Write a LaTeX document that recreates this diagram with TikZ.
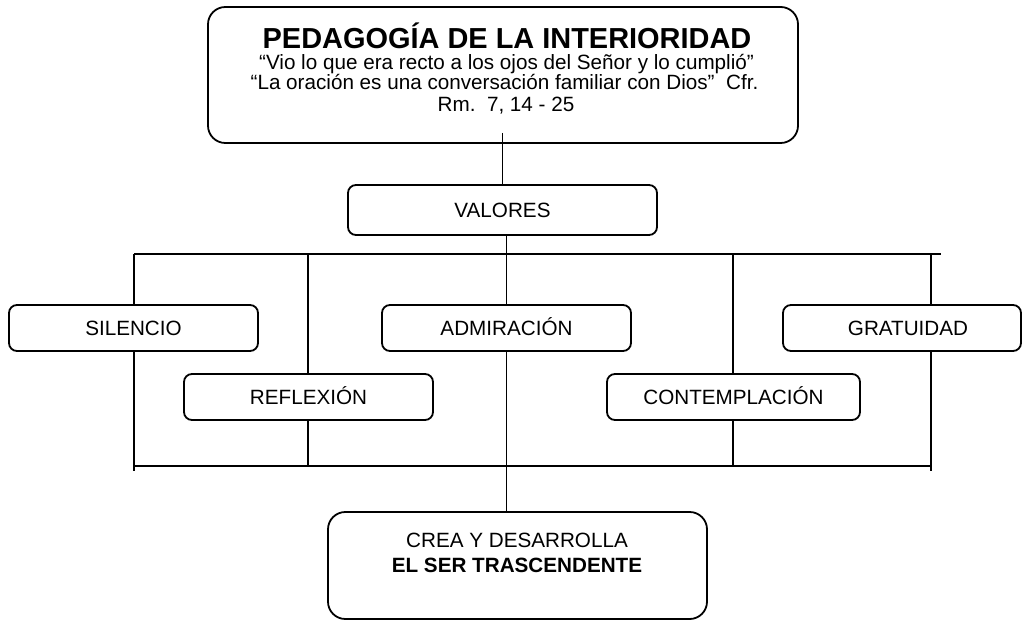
\documentclass[tikz,border=0pt]{standalone}
\usepackage{fontspec}
\setmainfont{Liberation Sans}
\usetikzlibrary{backgrounds}
\begin{document}
\begin{tikzpicture}[x=0.75pt,y=-0.75pt,
  boxstyle/.style={draw, fill=white, line width=1.35pt, rounded corners=6pt, inner sep=0pt,
    font=\fontsize{15.5}{18}\selectfont, text height=11pt, text depth=0pt,
    minimum width=186.75pt, minimum height=34.5pt},
  bigbox/.style={draw, fill=white, line width=1.35pt, rounded corners=13pt, inner sep=0pt},
  body/.style={inner sep=0pt, anchor=base, font=\fontsize{15.5}{18}\selectfont},
  linestyle/.style={line width=1.05pt},
  barstyle/.style={line width=1.8pt}
]
\useasboundingbox (0,0) rectangle (1031,620);

% title box
\node[bigbox, minimum width=442.5pt, minimum height=102pt] (title) at (503,75) {};
\node[body, font=\fontsize{21.7}{24}\selectfont\bfseries] (t1) at (507,49) {PEDAGOGÍA DE LA INTERIORIDAD};
\node[body] (t2) at (506.5,70) {“Vio lo que era recto a los ojos del Señor y lo cumplió”};
\node[body] (t3) at (504.5,90) {“La oración es una conversación familiar con Dios”\ \ Cfr.};
\node[body] (t4) at (506,112) {Rm.\ \ 7, 14 - 25};

% valores
\node[boxstyle, minimum width=231.75pt, minimum height=37.5pt] (valores) at (502.5,210) {VALORES};

% value boxes
\node[boxstyle] (sil) at (133.5,328) {SILENCIO};
\node[boxstyle] (adm) at (506.5,328) {ADMIRACIÓN};
\node[boxstyle, minimum width=178.5pt] (gra) at (902,328) {\hspace*{9pt}GRATUIDAD};
\node[boxstyle] (ref) at (308.5,397) {REFLEXIÓN};
\node[boxstyle, minimum width=189.75pt] (con) at (733.5,397) {CONTEMPLACIÓN};

% bottom box
\node[bigbox, minimum width=284.25pt, minimum height=80.25pt] (crea) at (517.5,565.5) {};
\node[body] (c1) at (517,547) {CREA Y DESARROLLA};
\node[body, font=\fontsize{15.5}{18}\selectfont\bfseries] (c2) at (517,572) {EL SER TRASCENDENTE};

% frame coordinates
\coordinate (tl) at (134,254);
\coordinate (tr) at (941,254);
\coordinate (bl) at (134,466);
\coordinate (br) at (931,466);
\coordinate (rv) at (931,254);
\coordinate (v2) at (308,254);
\coordinate (v4) at (733,254);

\begin{pgfonlayer}{background}
  \draw[barstyle] (tl) -- (tr);
  \draw[barstyle] (bl) -- (br);
  \draw[linestyle] (tl) -- ([yshift=-3.75pt]bl);
  \draw[linestyle] (rv) -- ([yshift=-3.75pt]br);
  \draw[linestyle] (v2) -- (v2 |- bl);
  \draw[linestyle] (v4) -- (v4 |- bl);
  \draw[linestyle] (valores.south -| adm) -- (adm) -- (crea.north -| adm);
\end{pgfonlayer}

% connector from title to valores
\draw[linestyle] ([yshift=8.25pt]title.south -| valores.north) -- (valores.north);
\end{tikzpicture}
\end{document}
